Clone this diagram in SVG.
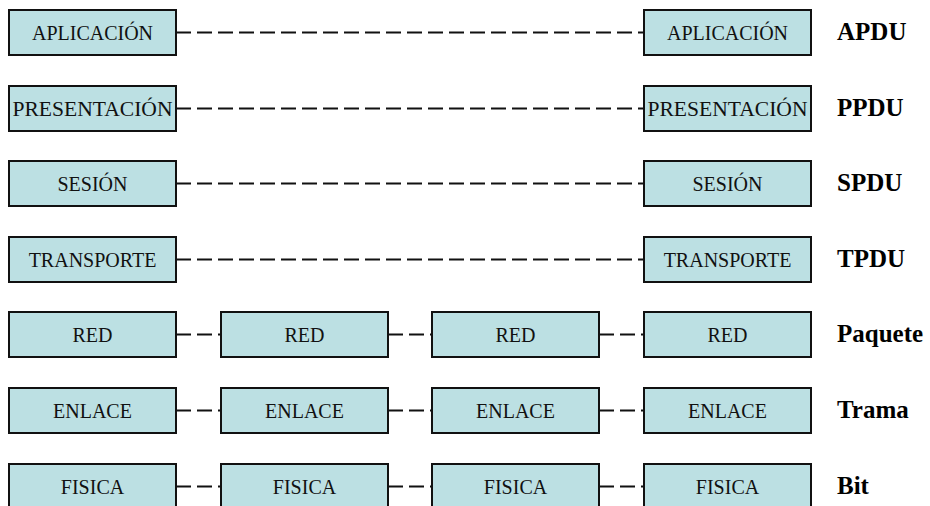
<svg xmlns="http://www.w3.org/2000/svg" width="930" height="506" viewBox="0 0 930 506">
<style>
.box{fill:#bce0e3;stroke:#111;stroke-width:2}
.t{font-family:'Liberation Serif','DejaVu Serif',serif;font-size:20px;fill:#111;text-anchor:middle}
.lbl{font-family:'Liberation Serif','DejaVu Serif',serif;font-size:25px;font-weight:bold;fill:#000}
.c{stroke:#111;stroke-width:2;stroke-dasharray:15 6;fill:none}
</style>
<rect width="930" height="506" fill="#fff"/>
<g id="connectors">
<line class="c" x1="176" y1="32.5" x2="644" y2="32.5"/>
<line class="c" x1="176" y1="108.5" x2="644" y2="108.5"/>
<line class="c" x1="176" y1="183.5" x2="644" y2="183.5"/>
<line class="c" x1="176" y1="259.5" x2="644" y2="259.5"/>
<line class="c" x1="176" y1="334.5" x2="221" y2="334.5"/>
<line class="c" x1="388" y1="334.5" x2="432" y2="334.5"/>
<line class="c" x1="599" y1="334.5" x2="644" y2="334.5"/>
<line class="c" x1="176" y1="410.5" x2="221" y2="410.5"/>
<line class="c" x1="388" y1="410.5" x2="432" y2="410.5"/>
<line class="c" x1="599" y1="410.5" x2="644" y2="410.5"/>
<line class="c" x1="176" y1="486.5" x2="221" y2="486.5"/>
<line class="c" x1="388" y1="486.5" x2="432" y2="486.5"/>
<line class="c" x1="599" y1="486.5" x2="644" y2="486.5"/>
</g>
<g id="app1"><rect class="box" x="9" y="10" width="167" height="45"/><text class="t" x="92.5" y="40">APLICACIÓN</text></g>
<g id="app2"><rect class="box" x="644" y="10" width="167" height="45"/><text class="t" x="727.5" y="40">APLICACIÓN</text></g>
<g id="pres1"><rect class="box" x="9" y="86" width="167" height="45"/><text class="t" x="92.5" y="116" textLength="160" lengthAdjust="spacingAndGlyphs">PRESENTACIÓN</text></g>
<g id="pres2"><rect class="box" x="644" y="86" width="167" height="45"/><text class="t" x="727.5" y="116" textLength="160" lengthAdjust="spacingAndGlyphs">PRESENTACIÓN</text></g>
<g id="ses1"><rect class="box" x="9" y="161" width="167" height="45"/><text class="t" x="92.5" y="191">SESIÓN</text></g>
<g id="ses2"><rect class="box" x="644" y="161" width="167" height="45"/><text class="t" x="727.5" y="191">SESIÓN</text></g>
<g id="tra1"><rect class="box" x="9" y="237" width="167" height="45"/><text class="t" x="92.5" y="267">TRANSPORTE</text></g>
<g id="tra2"><rect class="box" x="644" y="237" width="167" height="45"/><text class="t" x="727.5" y="267">TRANSPORTE</text></g>
<g id="red1"><rect class="box" x="9" y="312" width="167" height="45"/><text class="t" x="92.5" y="342">RED</text></g>
<g id="red2"><rect class="box" x="221" y="312" width="167" height="45"/><text class="t" x="304.5" y="342">RED</text></g>
<g id="red3"><rect class="box" x="432" y="312" width="167" height="45"/><text class="t" x="515.5" y="342">RED</text></g>
<g id="red4"><rect class="box" x="644" y="312" width="167" height="45"/><text class="t" x="727.5" y="342">RED</text></g>
<g id="enl1"><rect class="box" x="9" y="388" width="167" height="45"/><text class="t" x="92.5" y="418">ENLACE</text></g>
<g id="enl2"><rect class="box" x="221" y="388" width="167" height="45"/><text class="t" x="304.5" y="418">ENLACE</text></g>
<g id="enl3"><rect class="box" x="432" y="388" width="167" height="45"/><text class="t" x="515.5" y="418">ENLACE</text></g>
<g id="enl4"><rect class="box" x="644" y="388" width="167" height="45"/><text class="t" x="727.5" y="418">ENLACE</text></g>
<g id="fis1"><rect class="box" x="9" y="464" width="167" height="45"/><text class="t" x="92.5" y="494">FISICA</text></g>
<g id="fis2"><rect class="box" x="221" y="464" width="167" height="45"/><text class="t" x="304.5" y="494">FISICA</text></g>
<g id="fis3"><rect class="box" x="432" y="464" width="167" height="45"/><text class="t" x="515.5" y="494">FISICA</text></g>
<g id="fis4"><rect class="box" x="644" y="464" width="167" height="45"/><text class="t" x="727.5" y="494">FISICA</text></g>
<g id="labels">
<text class="lbl" x="837" y="40">APDU</text>
<text class="lbl" x="837" y="116">PPDU</text>
<text class="lbl" x="837" y="191">SPDU</text>
<text class="lbl" x="837" y="267">TPDU</text>
<text class="lbl" x="837" y="342">Paquete</text>
<text class="lbl" x="837" y="418">Trama</text>
<text class="lbl" x="837" y="494">Bit</text>
</g>
</svg>
